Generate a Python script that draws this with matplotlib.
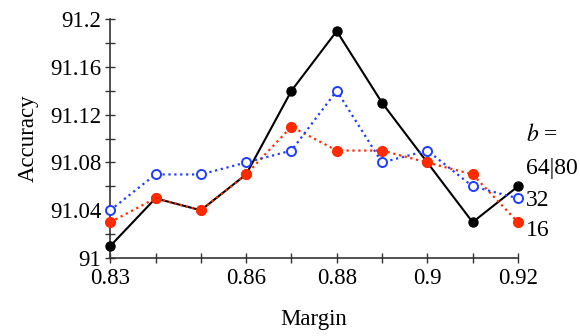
import numpy as np
import matplotlib
matplotlib.use("Agg")
import matplotlib.pyplot as plt
from matplotlib.ticker import MultipleLocator, FixedLocator, FixedFormatter

margin = [0.83, 0.84, 0.85, 0.86, 0.87, 0.88, 0.89, 0.90, 0.91, 0.92]
acc_64_80 = [91.01, 91.05, 91.04, 91.07, 91.14, 91.19, 91.13, 91.08, 91.03, 91.06]
acc_32 = [91.04, 91.07, 91.07, 91.08, 91.09, 91.14, 91.08, 91.09, 91.06, 91.05]
acc_16 = [91.03, 91.05, 91.04, 91.07, 91.11, 91.09, 91.09, 91.08, 91.07, 91.03]
xtick_vals = [0.83, 0.86, 0.88, 0.90, 0.92]
xtick_labels = ["0.83", "0.86", "0.88", "0.9", "0.92"]
ytick_vals = [91.0, 91.04, 91.08, 91.12, 91.16, 91.2]
ytick_labels = ["91", "91.04", "91.08", "91.12", "91.16", "91.2"]

plt.rcParams['font.family'] = ['Liberation Serif', 'DejaVu Serif']
plt.rcParams['mathtext.fontset'] = 'stix'

fig = plt.figure(figsize=(5.8, 3.36), dpi=100)
ax = fig.add_axes([0.19, 0.232, 0.703, 0.711])

ax.plot(margin, acc_64_80, color='black', lw=1.5, marker='o', ms=6.5, clip_on=False, zorder=3)
ax.plot(margin, acc_32, color='#1f3dff', lw=1.6, ls=':', marker='o', ms=6.5,
        mfc='white', mec='#1f3dff', mew=1.4, clip_on=False, zorder=4)
ax.plot(margin, acc_16, color='#ff2a00', lw=1.6, ls=':', marker='o', ms=7, clip_on=False, zorder=3)

ax.set_xlim(0.83, 0.92)
ax.set_ylim(91.0, 91.2)
ax.xaxis.set_major_locator(FixedLocator(xtick_vals))
ax.xaxis.set_major_formatter(FixedFormatter(xtick_labels))
ax.xaxis.set_minor_locator(MultipleLocator(0.01))
ax.yaxis.set_major_locator(FixedLocator(ytick_vals))
ax.yaxis.set_major_formatter(FixedFormatter(ytick_labels))
ax.yaxis.set_minor_locator(MultipleLocator(0.02))

for s in ['top', 'right']:
    ax.spines[s].set_visible(False)
for s in ['left', 'bottom']:
    ax.spines[s].set_color('#333333')
    ax.spines[s].set_linewidth(1.2)

ax.tick_params(which='both', direction='inout', colors='#333333', labelcolor='black', labelsize=16.5)
ax.tick_params(which='major', length=7, width=1)
ax.tick_params(which='minor', length=7, width=1)
ax.tick_params(axis='x', pad=4)
ax.tick_params(axis='y', pad=3)

ax.set_xlabel("Margin", fontsize=16.5, labelpad=14)
ax.set_ylabel("Accuracy", fontsize=16.5, labelpad=8)

tx = 1.02
ax.text(tx, 0.515, r"$b$ =", transform=ax.transAxes, fontsize=17, va='center', ha='left')
ax.text(tx, 0.375, "64|80", transform=ax.transAxes, fontsize=17, va='center', ha='left')
ax.text(tx, 0.24, "32", transform=ax.transAxes, fontsize=17, va='center', ha='left')
ax.text(tx, 0.115, "16", transform=ax.transAxes, fontsize=17, va='center', ha='left')

fig.savefig("out.png", dpi=100)
